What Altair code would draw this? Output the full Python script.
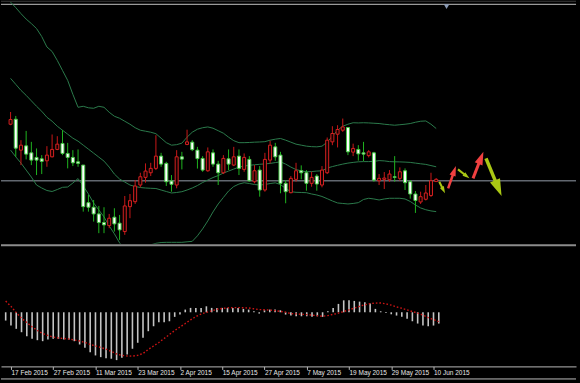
import math
import altair as alt
import pandas as pd

# ---------------- data ----------------
date_labels = ["17 Feb 2015", "27 Feb 2015", "11 Mar 2015", "23 Mar 2015", "2 Apr 2015",
               "15 Apr 2015", "27 Apr 2015", "7 May 2015", "19 May 2015", "29 May 2015", "10 Jun 2015"]
label_bars = [1, 9, 17, 25, 33, 41, 49, 57, 65, 73, 81]

opens = [126, 131, 100, 104.3, 97.3, 92.7, 91.3, 89.3, 93.3, 100.7,
         106.7, 96.7, 92.7, 88.3, 85, 47.3, 42.7, 36, 27.3, 24.3,
         32.7, 26.7, 18.3, 43.3, 48.3, 65, 72.7, 77.3, 81.7, 94,
         86.7, 69, 65, 93.3, 105.7, 108, 100, 91.7, 79.3, 97.3,
         86, 77.3, 91.3, 85, 94, 80.7, 90.7, 68.3, 80, 60,
         90, 103.3, 95, 66.7, 57.3, 70.7, 79.3, 77.3, 66.7, 74,
         65, 77.3, 108.3, 116, 120, 122.7, 98, 100.7, 97.3, 94.5,
         97.3, 69.3, 70.7, 70.3, 73.3, 71.7, 79.3, 68.3, 56, 48,
         50.7, 54.5, 68.5]
highs = [138.3, 134.3, 110, 119.3, 108.3, 101.7, 95, 104, 115.7, 114,
         120, 107.3, 100, 100.7, 85, 55, 50, 44, 42.7, 36,
         41.7, 35, 54, 56, 70, 77.3, 86.7, 87.3, 115, 97.3,
         88.3, 75, 100, 98.3, 120.5, 110, 103.3, 94, 102.7, 100.7,
         89.3, 95, 100.7, 103.3, 100.7, 96.7, 94, 85, 84, 97.3,
         109.3, 107.3, 98.3, 70, 74, 87.3, 84.7, 80, 78.3, 76,
         84, 112.7, 124, 125, 131.7, 122.7, 106.5, 105, 108.3, 100,
         98.3, 76, 78, 80, 94, 82.7, 81.7, 70, 59, 58.3,
         65, 77.3, 72]
lows = [125, 93.3, 85, 90.7, 85, 75, 76, 83.3, 92.7, 100,
        95, 81.7, 84, 83.3, 38.3, 38.3, 28.3, 16.7, 16.7, 21.7,
        18.3, 10, 15, 31.7, 46, 62.7, 67.3, 74, 80, 83.3,
        64, 58.3, 61.7, 80.7, 105, 99, 81.5, 78.3, 78.3, 83.3,
        65, 76, 80, 84, 75, 78.3, 68.3, 66.7, 53.3, 58.3,
        86.7, 89.3, 56.7, 46.7, 56.7, 68.3, 70.7, 59.3, 63.3, 59.3,
        62.7, 76, 105, 102.7, 118.3, 95, 94, 89.5, 89, 92.7,
        68.3, 65, 61, 68.3, 68.3, 69.3, 60, 51.3, 37, 46,
        49.5, 53, 68]
closes = [130.7, 102, 105, 96, 90, 90, 88.7, 95, 100.7, 106,
          96.7, 92.7, 87.3, 86.7, 43.3, 42.7, 36, 27.3, 25, 31.7,
          26, 20, 44, 49.3, 64, 73.3, 79, 81.7, 94, 86,
          68.3, 65.7, 93.3, 91, 108.3, 100.5, 91.5, 80, 98.3, 86,
          77.3, 91.7, 86, 93.3, 81.7, 92.7, 69.3, 79.3, 60, 90.7,
          105, 93.3, 66.7, 58.3, 71.7, 79.3, 77.3, 66.7, 72.7, 66,
          80, 110, 116.7, 120.7, 123.3, 98.3, 101.7, 96.3, 96, 98.3,
          70, 71.7, 72, 76, 72.7, 78.3, 67.3, 56, 49.5, 53.3,
          57, 69.3, 70.7]

band_upper = [248.5, 243, 237, 231.5, 227, 222, 214, 203.5, 199, 190,
              180, 170, 156, 143, 144, 142.5, 142, 144, 143, 138,
              134, 132, 129, 126, 122.5, 120, 119, 118, 116.5, 112,
              107.5, 105, 105.5, 107, 113, 118, 121, 122.5, 123.3, 122,
              119.5, 117, 113, 109.5, 107.5, 107.5, 107.7, 108, 108.2, 108.5,
              110, 111, 111.7, 110, 108, 106, 105, 104, 103.5, 103.3,
              104, 108, 114, 120, 124, 126, 127.5, 127.3, 127.5, 127.3,
              127, 126.7, 126, 125.5, 125, 125.5, 126, 126.7, 128, 129,
              129.3, 126, 121.7]
band_middle = [172, 166, 160, 155, 149.5, 144, 139, 133, 129, 124,
               120, 116, 112, 109, 105, 101, 97, 93, 89, 83,
               76, 71, 68, 65, 63.5, 62.5, 62, 61.7, 61.5, 60,
               58.5, 57, 57.5, 58.3, 60, 62, 64.5, 67.5, 70, 72.5,
               74.5, 77, 79, 81, 83, 84, 84.8, 85.3, 85.8, 86.2,
               86.7, 87.5, 88.3, 86, 83, 80.5, 79.2, 78.3, 78.5, 79,
               79.3, 82, 83.5, 84.8, 86, 87, 87.7, 88.3, 88.5, 88.5,
               88.7, 89.5, 89.2, 88.5, 88.3, 88.2, 88, 87.7, 87, 86.3,
               85.7, 84.5, 83.3]
band_lower = [100, 93.3, 87, 80, 73, 65, 62, 59.5, 58.5, 60.5,
              62.7, 63, 67, 71.5, 64, 56, 47, 40, 33, 24,
              16, 7, 0, -2, -3, -2, 1, 5, 6.5, 7.3,
              7.5, 7.5, 7.5, 7.5, 8, 8.5, 14, 21, 29, 38,
              46, 52.5, 59, 63.5, 66, 67.3, 66.5, 65.5, 65, 65.5,
              66.5, 67.2, 65.5, 61.5, 58.3, 57.7, 57.5, 57.3, 56, 55,
              53.5, 51.3, 49, 47, 46.5, 46, 46.5, 47.3, 50.5, 51.7,
              51, 50, 51, 51.7, 51.7, 51.7, 51, 48.5, 45, 42,
              40.2, 39, 38.3]

osc_hist = [-8.3, -13.3, -16.6, -20, -24, -26.6, -28, -29, -27.3, -26.6,
            -26.6, -27.3, -27.3, -29, -32.3, -35.6, -40, -43.3, -45, -46,
            -46.6, -48, -45.6, -42.3, -36.6, -30.6, -25.6, -19, -14, -10,
            -10, -9, -4.6, -2.3, 2.7, 4.4, 4.4, 4.4, 6, 4.4,
            4.4, 4.4, 4.4, 4.4, 4.4, 3.4, 2.7, 1, -1.3, 2,
            2.7, 2.7, 2, -2.3, -3.3, -4, -4, -4, -4.6, -4,
            -4.6, 1, 4.4, 8.4, 12, 12, 11.4, 10.7, 10, 8.7,
            3.4, 1, -0.6, -2, -3.3, -4.6, -6.6, -9, -11.3, -13.3,
            -14, -13.3, -11.3]
osc_signal = [11.2, 6, -0.3, -6, -10.3, -14.6, -18.3, -21.3, -23.3, -24.8,
              -25.8, -26.3, -26.8, -27.8, -28.8, -30.3, -32.3, -33.8, -35.3, -37,
              -39.3, -41.8, -43.3, -43.8, -44, -43.3, -41.3, -37.3, -33.8, -30.3,
              -26.3, -22.3, -18.3, -14.8, -11.3, -7.6, -4.3, -1.8, -0.1, 1.4,
              3, 3.9, 4.4, 4.7, 4.7, 4.5, 4.3, 3.5, 2.7, 2.5,
              2.2, 1.7, 0.9, 0.1, -1.3, -1.6, -2, -2.3, -2.8, -3.5,
              -4, -3.3, -2.1, -0.8, 0.7, 2.5, 4.2, 6, 7.5, 8.7,
              9.2, 9.4, 8.4, 7.2, 5.4, 4, 2.4, 0.7, -0.8, -2.8,
              -5.3, -7.3, -9.3]

price_line = 69.3
shift_marker_bar = 84

# drawn arrow objects (tail -> tip, in bar / price units)
arrow_x0 = [82.6, 84.3, 86.2, 89.1, 91.6]
arrow_y0 = [68.3, 61.7, 80.7, 71.7, 91.7]
arrow_x1 = [83.7, 85.8, 88.4, 91.1, 94.6]
arrow_y1 = [56.7, 84.0, 71.7, 98.3, 54.0]
arrow_kind = ["down", "up", "down", "up", "down"]

# ---------------- styles / layout ----------------
W, H1, H2 = 577, 244, 120
XDOM = [-0.887, 107.981]
YDOM = [6, 250]
ODOM = [-54.3, 65.7]
arrow_colors = {"down": "#aac814", "up": "#f04040"}
arrow_shaft = [2, 2.5, 2, 3, 3.5]
arrow_head = [7, 10, 7, 13, 17]
BAND = "#2b7a4b"

xs = alt.Scale(domain=XDOM, nice=False, zero=False)
ys = alt.Scale(domain=YDOM, nice=False, zero=False)
os_ = alt.Scale(domain=ODOM, nice=False, zero=False)

n = len(opens)
cdf = pd.DataFrame({"idx": list(range(n)), "o": opens, "h": highs, "l": lows, "c": closes})
cdf["dir"] = ["up" if c >= o else "down" for o, c in zip(opens, closes)]
bdf = pd.DataFrame({"idx": list(range(n)), "upper": band_upper, "middle": band_middle, "lower": band_lower})
odf = pd.DataFrame({"idx": list(range(n)), "hist": osc_hist, "signal": osc_signal})

SX = W / (XDOM[1] - XDOM[0])
SY = H1 / (YDOM[1] - YDOM[0])
shafts, heads = [], []
for x0, y0, x1, y1, k, sw, hl in zip(arrow_x0, arrow_y0, arrow_x1, arrow_y1, arrow_kind, arrow_shaft, arrow_head):
    dx, dy = (x1 - x0) * SX, (y1 - y0) * SY
    L = math.hypot(dx, dy)
    ang = math.degrees(math.atan2(dx, dy)) % 360
    f = max(0.0, 1 - hl * 0.6 / L)
    shafts.append({"x": x0, "y": y0, "x2": x0 + f * (x1 - x0), "y2": y0 + f * (y1 - y0),
                   "col": arrow_colors[k], "w": sw})
    heads.append({"x": x1, "y": y1, "ang": ang, "sz": (2 * hl) ** 2, "col": arrow_colors[k]})
sdf = pd.DataFrame(shafts)
hdf = pd.DataFrame(heads)

X = lambda f: alt.X(f, scale=xs, axis=None)
Y = lambda f: alt.Y(f, scale=ys, axis=None)

base = alt.Chart(cdf)
frame_top = alt.Chart(pd.DataFrame({"k": [0]})).mark_rule(color="#3c3c3c", strokeWidth=1).encode(
    y=alt.value(0.6), x=alt.value(0), x2=alt.value(W))
frame_top2 = alt.Chart(pd.DataFrame({"k": [0]})).mark_rule(color="#9a9a9a", strokeWidth=1.2).encode(
    y=alt.value(3.8), x=alt.value(0), x2=alt.value(W))
sep = alt.Chart(pd.DataFrame({"k": [0]})).mark_rule(color="#8c8c8c", strokeWidth=2).encode(
    y=alt.value(H1 + 1.5), x=alt.value(0), x2=alt.value(W))
hline = alt.Chart(pd.DataFrame({"p": [price_line]})).mark_rule(color="#626870", strokeWidth=1.5).encode(
    y=Y("p:Q"))
bands = alt.Chart(bdf).transform_fold(["upper", "middle", "lower"], as_=["band", "v"]).mark_line(
    color=BAND, strokeWidth=1, clip=True).encode(x=X("idx:Q"), y=Y("v:Q"), detail="band:N")
wick_up = base.transform_filter("datum.dir == 'up'").mark_rule(color="#c81818", strokeWidth=1).encode(
    x=X("idx:Q"), y=Y("l:Q"), y2="h:Q")
wick_dn = base.transform_filter("datum.dir == 'down'").mark_rule(color="#1fb41f", strokeWidth=1).encode(
    x=X("idx:Q"), y=Y("l:Q"), y2="h:Q")
body_up = base.transform_filter("datum.dir == 'up'").mark_bar(
    size=3, fill="#140000", stroke="#d42020", strokeWidth=1).encode(x=X("idx:Q"), y=Y("o:Q"), y2="c:Q")
body_dn = base.transform_filter("datum.dir == 'down'").mark_bar(
    size=3, fill="#ffffff", stroke="#46c846", strokeWidth=1).encode(x=X("idx:Q"), y=Y("o:Q"), y2="c:Q")
shaft = alt.Chart(sdf).mark_rule(strokeCap="butt").encode(
    x=X("x:Q"), y=Y("y:Q"), x2="x2:Q", y2="y2:Q",
    color=alt.Color("col:N", scale=None), strokeWidth=alt.StrokeWidth("w:Q", scale=None))
head = alt.Chart(hdf).mark_point(shape="M0,0L0.32,1L-0.32,1Z", filled=True, opacity=1, strokeWidth=0).encode(
    x=X("x:Q"), y=Y("y:Q"), angle=alt.Angle("ang:Q", scale=None),
    size=alt.Size("sz:Q", scale=None), color=alt.Color("col:N", scale=None))
marker = alt.Chart(pd.DataFrame({"b": [shift_marker_bar]})).mark_point(
    shape="triangle-down", filled=True, color="#8a9ab4", size=30, opacity=1).encode(
    x=X("b:Q"), y=alt.value(6))

top = alt.layer(frame_top, frame_top2, hline, bands, wick_up, wick_dn, body_up, body_dn,
                shaft, head, marker, sep).properties(width=W, height=H1)

labexpr = "[" + ",".join("'%s'" % s for s in date_labels) + "][round((datum.value - 1) / 8)]"
xaxis = alt.Axis(values=label_bars, labelExpr=labexpr, grid=False, domainColor="#b8b8b8",
                 tickColor="#b8b8b8", tickSize=3, labelColor="#e6e6e6", labelFont="Liberation Sans",
                 labelFontSize=6.5, labelAlign="left", labelBaseline="top", labelPadding=0,
                 labelFlush=False, labelOverlap=False, title=None, domainWidth=1)
hist = alt.Chart(odf).mark_rule(color="#c4c4c4", strokeWidth=1.6).encode(
    x=alt.X("idx:Q", scale=xs, axis=xaxis), y=alt.Y("hist:Q", scale=os_, axis=None), y2=alt.datum(0))
sig = alt.Chart(odf).mark_line(color="#cc1414", strokeWidth=1.4, strokeDash=[1.6, 2]).encode(
    x=alt.X("idx:Q", scale=xs, axis=xaxis), y=alt.Y("signal:Q", scale=os_, axis=None))
bottom_line = alt.Chart(pd.DataFrame({"k": [0]})).mark_rule(color="#bcbcbc", strokeWidth=1).encode(
    y=alt.value(H2 + 12.6), x=alt.value(0), x2=alt.value(W))
bottom = alt.layer(hist, sig, bottom_line).properties(width=W, height=H2)

chart = alt.vconcat(top, bottom, spacing=3, bounds="flush").resolve_scale(
    x="independent", y="independent").properties(
    padding={"left": 0, "top": 0, "right": 3, "bottom": 2}, background="#000000"
).configure_view(strokeWidth=0)

chart.save("out.html", embed_options={"renderer": "svg", "actions": False})
